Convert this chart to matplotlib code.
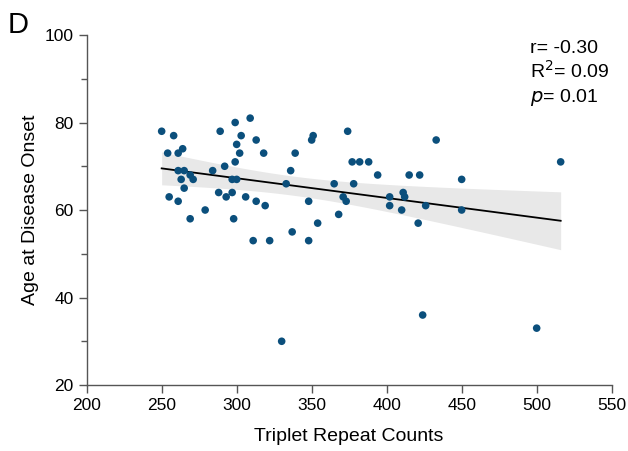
import numpy as np
import matplotlib
matplotlib.use('Agg')
import matplotlib.pyplot as plt
from matplotlib.ticker import MultipleLocator

plt.rcParams['font.family'] = ['Liberation Sans', 'DejaVu Sans']

# triplet repeat counts and age at onset
repeats = [250, 258, 254, 261, 264, 261, 265, 263, 269, 271, 265, 255, 261, 269,
           279, 284, 292, 289, 299, 309, 303, 300, 302, 313, 318, 299, 297, 300,
           288, 293, 297, 306, 313, 319, 298, 311, 322,
           339, 351, 350, 374, 377, 382, 388, 394, 336, 333, 365, 378, 371, 373,
           348, 368, 354, 337, 348,
           433, 415, 422, 450, 402, 411, 412, 402, 410, 426, 450, 421,
           516, 424, 500, 330]
onset = [78, 77, 73, 73, 74, 69, 69, 67, 68, 67, 65, 63, 62, 58,
         60, 69, 70, 78, 80, 81, 77, 75, 73, 76, 73, 71, 67, 67,
         64, 63, 64, 63, 62, 61, 58, 53, 53,
         73, 77, 76, 78, 71, 71, 71, 68, 69, 66, 66, 66, 63, 62,
         62, 59, 57, 55, 53,
         76, 68, 68, 67, 63, 64, 63, 61, 60, 61, 60, 57,
         71, 36, 33, 30]

x = np.array(repeats, dtype=float)
y = np.array(onset, dtype=float)

# linear fit with 95% confidence band
slope, icpt = np.polyfit(x, y, 1)
xs = np.linspace(x.min(), x.max(), 200)
fit = icpt + slope * xs
n = len(x)
resid = y - (icpt + slope * x)
s = np.sqrt(np.sum(resid ** 2) / (n - 2))
se = s * np.sqrt(1 / n + (xs - x.mean()) ** 2 / np.sum((x - x.mean()) ** 2))
band = 1.994 * se

fig = plt.figure(figsize=(6.28, 4.51), dpi=100)
ax = fig.add_axes([0.138, 0.1463, 0.836, 0.7761])

ax.fill_between(xs, fit - band, fit + band, color='#e8e8e8', lw=0, zorder=1)
ax.plot(xs, fit, color='black', lw=1.3, zorder=2)
ax.scatter(x, y, s=30, color='#0b4f7c', edgecolors='none', zorder=3)

ax.set_xlim(200, 550)
ax.set_ylim(20, 100)
ax.xaxis.set_major_locator(MultipleLocator(50))
ax.yaxis.set_major_locator(MultipleLocator(20))
ax.yaxis.set_minor_locator(MultipleLocator(10))
for side in ['top', 'right']:
    ax.spines[side].set_visible(False)
for side in ['left', 'bottom']:
    ax.spines[side].set_color('#555555')
    ax.spines[side].set_linewidth(1.0)
ax.tick_params(which='major', length=6, width=1.0, color='#555555', labelsize=12.5)
ax.tick_params(which='minor', length=4, width=1.0, color='#555555')

ax.set_xlabel('Triplet Repeat Counts', fontsize=14, labelpad=11)
ax.set_ylabel('Age at Disease Onset', fontsize=14, labelpad=4)

ax.text(0.844, 0.9486, 'r= -0.30', transform=ax.transAxes, fontsize=14, va='baseline')
ax.text(0.844, 0.877, 'R$^2$= 0.09', transform=ax.transAxes, fontsize=14, va='baseline')
ax.text(0.844, 0.8086, '$p$= 0.01', transform=ax.transAxes, fontsize=14, va='baseline')

fig.text(0.012, 0.927, 'D', fontsize=21, va='baseline')

fig.savefig('out.png', dpi=100)
